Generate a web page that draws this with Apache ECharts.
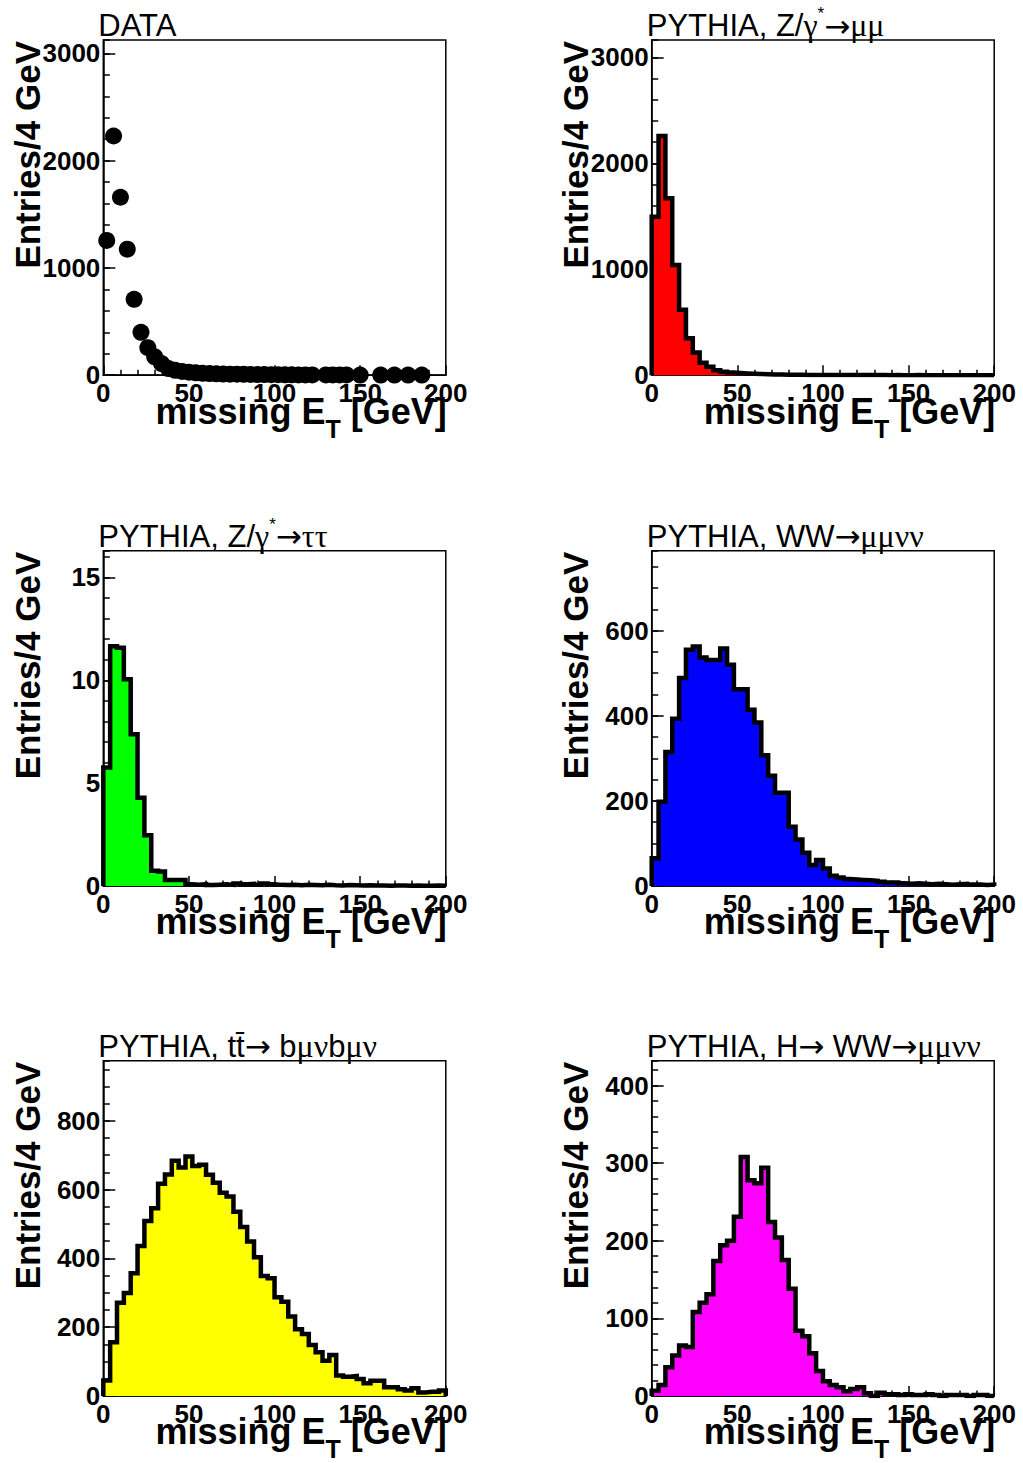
<!DOCTYPE html>
<html><head><meta charset="utf-8">
<script src="https://cdn.jsdelivr.net/npm/echarts@6/dist/echarts.min.js"></script>
<style>html,body{margin:0;padding:0;background:#fff}#c{width:1023px;height:1463px}</style>
</head><body><div id="c"></div><script>
// ---- data: missing E_T, 50 bins of 4 GeV from 0 to 200 ----
const binWidth = 4;
const xTicks = [0, 50, 100, 150, 200];
const dataCounts = [1256, 2230, 1659, 1175, 707, 400, 257, 171, 108, 62, 46, 35, 28, 22, 18, 15, 13, 11, 10, 9, 8, 7, 6, 6, 5, 5, 4, 4, 3, 3, 3, 0, 2, 2, 2, 2, 0, 1, 0, 0, 1, 0, 1, 0, 1, 0, 1, 0, 0, 0];
const zmumu = [1496, 2259, 1670, 1040, 618, 350, 215, 118, 79, 47, 32, 25, 20, 16, 13, 11, 9, 7, 6, 5, 4, 4, 3, 3, 2, 2, 2, 1, 1, 1, 1, 1, 1, 1, 0, 1, 0, 0, 1, 0, 0, 0, 0, 0, 0, 0, 0, 0, 0, 0];
const ztautau = [5.76, 11.65, 11.58, 10.05, 7.38, 4.29, 2.46, 0.74, 0.70, 0.29, 0.29, 0.29, 0.08, 0.06, 0.08, 0.04, 0.06, 0.08, 0.05, 0.12, 0.08, 0.10, 0.06, 0.12, 0.08, 0.05, 0.04, 0.06, 0.03, 0.05, 0.04, 0.03, 0.05, 0.03, 0.02, 0.04, 0.03, 0.02, 0.03, 0.02, 0.02, 0.01, 0.02, 0.02, 0.01, 0.02, 0.01, 0.01, 0.02, 0.01];
const wwmumununu = [65, 198, 315, 393, 489, 555, 563, 537, 531, 531, 558, 520, 462, 462, 414, 384, 307, 259, 219, 219, 139, 109, 78, 49, 61, 41, 24, 20, 16, 15, 14, 13, 12, 10, 8, 8, 6, 5, 6, 5, 4, 5, 4, 3, 4, 5, 3, 3, 2, 3];
const ttbar = [45, 156, 271, 299, 357, 436, 509, 546, 617, 644, 684, 664, 696, 669, 672, 643, 620, 591, 580, 536, 491, 449, 403, 349, 342, 287, 274, 231, 194, 180, 148, 127, 102, 119, 59, 56, 58, 49, 37, 44, 44, 25, 25, 19, 16, 22, 10, 12, 12, 16];
const higgsww = [6.5, 14, 37, 52, 65, 63, 108, 120, 131, 174, 194, 200, 231, 308, 278, 274, 294, 224, 204, 175, 138, 84, 77, 55, 32, 19, 14, 11, 6, 9, 11, 3.5, 0, 4, 2, 2, 1, 2, 1, 1, 2, 1, 0, 1, 1, 1, 0, 1, 1, 0];
// axis ranges / tick steps per panel
const yMaxes = [3125, 3165, 16.3, 788, 975, 432];
const yMajor = [1000, 1000, 5, 200, 200, 100];
const yMinor = [200, 200, 1, 50, 50, 20];
const titles = [
  '{n|DATA}',
  '{n|PYTHIA, Z/}{g|γ}{s|*}{a|→}{g|μμ}',
  '{n|PYTHIA, Z/}{g|γ}{s|*}{a|→}{g|ττ}',
  '{n|PYTHIA, WW}{a|→}{g|μμνν}',
  '{n|PYTHIA, tt̄}{a|→}{n| b}{g|μν}{n|b}{g|μν}',
  '{n|PYTHIA, H}{a|→}{n| WW}{a|→}{g|μμνν}'
];
const yTitle = 'Entries/4 GeV';
const xTitle = '{b|missing E}{t|T}{b| [GeV]}';
const series = [dataCounts, zmumu, ztautau, wwmumununu, ttbar, higgsww];
const fills = [null, '#ff0000', '#00ff00', '#0000ff', '#ffff00', '#ff00ff'];

// ---- layout ----
const SANS = 'Liberation Sans, Arial, Helvetica, sans-serif';
const SERIF = 'Liberation Serif, DejaVu Serif, serif';
const colX = [103.3, 651.7];
const rowY = [40, 550.7, 1060.7];
const W = 342.5, H = 335.2;

const chart = echarts.init(document.getElementById('c'), null, {renderer: 'svg', width: 1023, height: 1463});
const grids = [], xAxes = [], yAxes = [], seriesOpts = [], graphics = [];
const plain = v => String(Math.round(v * 1000) / 1000);

for (let i = 0; i < 6; i++) {
  const col = i % 2, row = Math.floor(i / 2);
  const L = colX[col], T = rowY[row];
  grids.push({left: L, top: T, width: W, height: H, show: true, borderColor: '#000', borderWidth: 1.5, backgroundColor: 'transparent', containLabel: false});
  xAxes.push({
    gridIndex: i, type: 'value', min: 0, max: 200, interval: 50,
    axisLine: {show: true, onZero: false, lineStyle: {color: '#000', width: 1.5}},
    axisTick: {show: true, inside: true, length: 10, lineStyle: {color: '#000', width: 1.5}},
    minorTick: {show: true, splitNumber: 5, length: 5.5, lineStyle: {color: '#000', width: 1.5}},
    axisLabel: {color: '#000', fontFamily: SANS, fontWeight: 'bold', fontSize: 26, margin: 5, formatter: plain},
    splitLine: {show: false}, minorSplitLine: {show: false}
  });
  yAxes.push({
    gridIndex: i, type: 'value', position: 'left', min: 0, max: yMaxes[i], interval: yMajor[i],
    axisLine: {show: true, onZero: false, lineStyle: {color: '#000', width: 1.5}},
    axisTick: {show: true, inside: true, length: 12, lineStyle: {color: '#000', width: 1.5}},
    axisLabel: {color: '#000', fontFamily: SANS, fontWeight: 'bold', fontSize: 26, margin: 3, showMaxLabel: false, formatter: plain},
    splitLine: {show: false}
  });
  yAxes.push({
    gridIndex: i, type: 'value', position: 'left', offset: 0, min: 0, max: yMaxes[i], interval: yMinor[i],
    axisLine: {show: false},
    axisTick: {show: true, inside: true, length: 6.5, lineStyle: {color: '#000', width: 1.5}},
    axisLabel: {show: false}, splitLine: {show: false}
  });
  const vals = series[i];
  if (i === 0) {
    const pts = [];
    vals.forEach((v, k) => { if (v > 0) pts.push([k * binWidth + binWidth / 2, v]); });
    seriesOpts.push({type: 'scatter', xAxisIndex: i, yAxisIndex: 2 * i, data: pts, symbol: 'circle', symbolSize: 17,
      itemStyle: {color: '#000', opacity: 1}, silent: true, animation: false, clip: true});
  } else {
    const pts = [[0, 0]];
    vals.forEach((v, k) => pts.push([k * binWidth, v]));
    pts.push([200, vals[vals.length - 1]]);
    pts.push([200, 0]);
    seriesOpts.push({type: 'line', xAxisIndex: i, yAxisIndex: 2 * i, data: pts, step: 'end', symbol: 'none',
      lineStyle: {color: '#000', width: 4.5, join: 'miter', cap: 'butt'},
      areaStyle: {color: fills[i], opacity: 1}, silent: true, animation: false, clip: true});
  }
  // panel title
  graphics.push({type: 'text', x: L - 5, y: T + 1, style: {
    text: titles[i], verticalAlign: 'bottom', align: 'left',
    rich: {
      n: {fontFamily: SANS, fontSize: 31, fill: '#000', lineHeight: 36, verticalAlign: 'bottom'},
      g: {fontFamily: SERIF, fontSize: 32, fill: '#000', lineHeight: 36, verticalAlign: 'bottom'},
      a: {fontFamily: 'DejaVu Sans, sans-serif', fontSize: 31, fill: '#000', lineHeight: 36, verticalAlign: 'bottom'},
      s: {fontFamily: SANS, fontSize: 17, fill: '#000', lineHeight: 17, verticalAlign: 'top'}
    }
  }});
  // y title
  graphics.push({type: 'text', x: L - 76, y: T + 1, rotation: Math.PI / 2, style: {
    text: yTitle, align: 'right', verticalAlign: 'middle',
    font: 'bold 35px ' + SANS, fill: '#000'
  }});
  // x title
  graphics.push({type: 'text', x: L + W + 1, y: T + H + 36, style: {
    text: xTitle, align: 'right', verticalAlign: 'middle',
    rich: {
      b: {fontFamily: SANS, fontWeight: 'bold', fontSize: 36, fill: '#000', lineHeight: 60, verticalAlign: 'middle'},
      t: {fontFamily: SANS, fontWeight: 'bold', fontSize: 25, fill: '#000', lineHeight: 4, verticalAlign: 'bottom'}
    }
  }});
}

chart.setOption({
  animation: false,
  backgroundColor: '#fff',
  grid: grids, xAxis: xAxes, yAxis: yAxes, series: seriesOpts, graphic: graphics
});
</script></body></html>
